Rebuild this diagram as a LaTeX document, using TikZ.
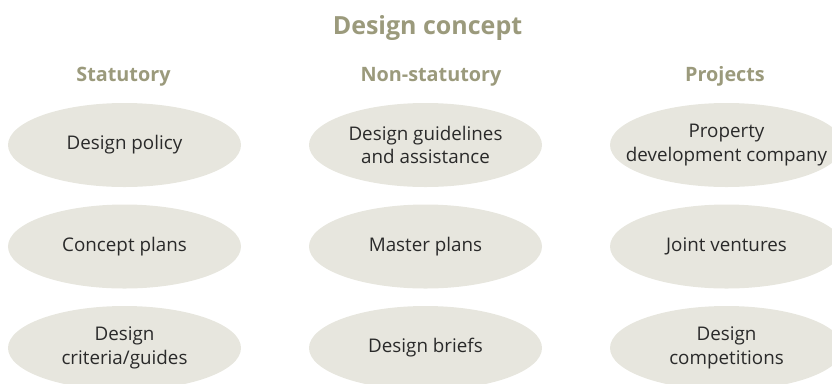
\documentclass[tikz,border=0pt]{standalone}
\usepackage{fontspec}
\setmainfont{Open Sans}
\usetikzlibrary{shapes.geometric}
\definecolor{ellfill}{HTML}{E7E6DE}
\definecolor{headcol}{HTML}{9B9A7C}
\definecolor{txtcol}{HTML}{2A2A2A}
\tikzset{
  oval/.style={ellipse, fill=ellfill, minimum width=233bp, minimum height=84bp,
    inner xsep=-25bp, inner ysep=0pt,
    text=txtcol, align=center, font=\fontsize{18.8bp}{23.5bp}\selectfont},
  colhead/.style={text=headcol, font=\fontsize{19.8bp}{23bp}\selectfont\bfseries, inner sep=0pt, anchor=base},
  maintitle/.style={text=headcol, font=\fontsize{25bp}{29bp}\selectfont\bfseries, inner sep=0pt, anchor=base}
}
\begin{document}
\begin{tikzpicture}[x=1bp,y=-1bp]
\useasboundingbox (0,0) rectangle (832,383);
\node[maintitle] (title) at (427.5,34) {Design concept};
\node[colhead] (h1) at (123.5,81) {Statutory};
\node[colhead] (h2) at (431,81) {Non-statutory};
\node[colhead] (h3) at (725,81) {Projects};
\node[oval] (a1) at (124.5,145) {Design policy};
\node[oval] (b1) at (425.5,145) {Design guidelines\\and assistance};
\node[oval] (c1) at (726.5,145) {Property\\development company};
\node[oval] (a2) at (124.5,246.5) {Concept plans};
\node[oval] (b2) at (425.5,246.5) {Master plans};
\node[oval] (c2) at (726.5,246.5) {Joint ventures};
\node[oval] (a3) at (124.5,348) {Design\\criteria/guides};
\node[oval] (b3) at (425.5,348) {Design briefs};
\node[oval] (c3) at (726.5,348) {Design\\competitions};
\end{tikzpicture}
\end{document}
